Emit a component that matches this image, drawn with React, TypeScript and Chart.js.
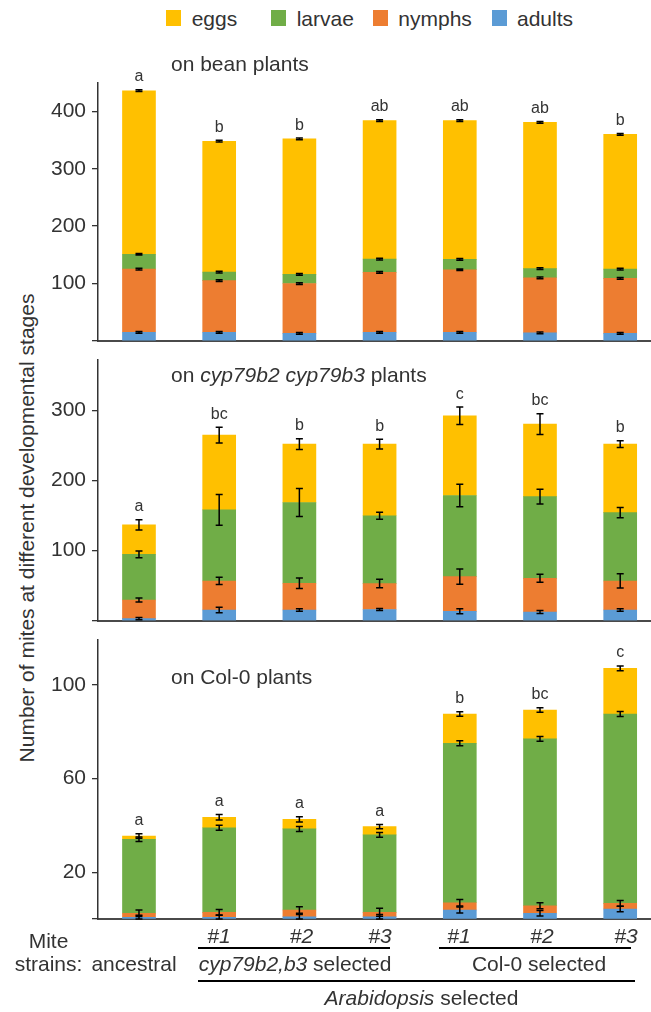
import React, { useEffect, useRef } from 'react';
import { Chart, registerables } from 'chart.js';

Chart.register(...registerables);

// ---------- data ----------
const strains = ['ancestral', 'cyp79b2,b3 #1', 'cyp79b2,b3 #2', 'cyp79b2,b3 #3', 'Col-0 #1', 'Col-0 #2', 'Col-0 #3'];
const stageNames = ['adults', 'nymphs', 'larvae', 'eggs'];
const legendOrder = ['eggs', 'larvae', 'nymphs', 'adults'];

// on bean plants
const beanAdults = [15, 15, 13, 15, 15, 14, 13];
const beanNymphs = [110, 90, 87, 104.5, 109, 96, 96];
const beanLarvae = [26, 15, 16, 23, 18, 16, 16];
const beanEggs = [285, 228, 236, 241.5, 242, 255, 235];
const beanAdultsErr = [1.5, 1.5, 1.5, 1.5, 1.5, 1.5, 1.5];
const beanNymphsErr = [1.5, 1.5, 1.5, 1.5, 1.5, 1.5, 1.5];
const beanLarvaeErr = [1.5, 1.5, 1.5, 1.5, 1.5, 1.5, 1.5];
const beanEggsErr = [1.5, 1.5, 1.5, 1.5, 1.5, 1.5, 1.5];
const beanLetters = ['a', 'b', 'b', 'ab', 'ab', 'ab', 'b'];
const beanTicks = [0, 100, 200, 300, 400];

// on cyp79b2 cyp79b3 plants
const cypAdults = [3, 15.3, 15.3, 16, 13.4, 12.4, 15.3];
const cypNymphs = [26.6, 41.4, 38.1, 37, 49.5, 48.1, 41.4];
const cypLarvae = [65.2, 101.4, 115.2, 96.8, 115.7, 116.5, 97.6];
const cypEggs = [41.9, 106.7, 83.4, 102.2, 113.8, 103.6, 97.7];
const cypAdultsErr = [1.7, 4, 1.9, 1.5, 3.5, 2, 1.7];
const cypNymphsErr = [2.9, 5.2, 7.6, 6, 11, 5.7, 10.2];
const cypLarvaeErr = [4.8, 22, 20, 5, 16, 10.5, 7.4];
const cypEggsErr = [7.4, 11.2, 7.6, 7, 12.4, 14.8, 4.8];
const cypLetters = ['a', 'bc', 'b', 'b', 'c', 'bc', 'b'];
const cypTicks = [0, 100, 200, 300];

// on Col-0 plants
const colAdults = [0.8, 0.8, 1, 1, 3.9, 2.5, 4.3];
const colNymphs = [1.7, 2.1, 2.9, 1.9, 3.1, 3.2, 2.4];
const colLarvae = [31.6, 36.1, 34.6, 33.1, 68.1, 71.3, 80.9];
const colEggs = [1.4, 4.5, 4.1, 3.5, 12.5, 12.3, 19.5];
const colAdultsErr = [0.8, 0.8, 1, 1, 1.3, 1.2, 1.2];
const colNymphsErr = [1.4, 1.2, 1.4, 1.7, 1.4, 1.3, 1.2];
const colLarvaeErr = [1, 1.1, 1.1, 1, 1.1, 1, 1.1];
const colEggsErr = [1, 1.2, 1.1, 0.9, 1, 1, 1];
const colLetters = ['a', 'a', 'a', 'a', 'b', 'bc', 'c'];
const colTicks = [0, 20, 60, 100];

// ---------- styles / layout ----------
const FONT = '"Liberation Sans", Arial, Helvetica, sans-serif';
const TEXT = '#333333';
const COLORS: Record<string, string> = {
  eggs: '#FFC000',
  larvae: '#70AD47',
  nymphs: '#ED7D31',
  adults: '#5B9BD5',
};
const W = 651;
const H = 1012;

type Seg = { text: string; italic?: boolean };
type PanelCfg = {
  values: number[][];
  errors: number[][];
  letters: string[];
  ticks: number[];
  yMax: number;
  top: number;
  bottom: number;
  title: Seg[];
  titleDy: number;
};

const panels: PanelCfg[] = [
  {
    values: [beanAdults, beanNymphs, beanLarvae, beanEggs],
    errors: [beanAdultsErr, beanNymphsErr, beanLarvaeErr, beanEggsErr],
    letters: beanLetters,
    ticks: beanTicks,
    yMax: 450,
    top: 82.7,
    bottom: 340.9,
    title: [{ text: 'on bean plants' }],
    titleDy: -11.7,
  },
  {
    values: [cypAdults, cypNymphs, cypLarvae, cypEggs],
    errors: [cypAdultsErr, cypNymphsErr, cypLarvaeErr, cypEggsErr],
    letters: cypLetters,
    ticks: cypTicks,
    yMax: 372,
    top: 360,
    bottom: 620.7,
    title: [{ text: 'on ' }, { text: 'cyp79b2 cyp79b3', italic: true }, { text: ' plants' }],
    titleDy: 21.7,
  },
  {
    values: [colAdults, colNymphs, colLarvae, colEggs],
    errors: [colAdultsErr, colNymphsErr, colLarvaeErr, colEggsErr],
    letters: colLetters,
    ticks: colTicks,
    yMax: 119.2,
    top: 640,
    bottom: 919.1,
    title: [{ text: 'on Col-0 plants' }],
    titleDy: 44.3,
  },
];

function Panel({ cfg }: { cfg: PanelCfg }) {
  const ref = useRef<HTMLCanvasElement>(null);
  useEffect(() => {
    const canvas = ref.current!;
    const overlay = {
      id: 'overlay',
      afterDatasetsDraw(chart: any) {
        const ctx = chart.ctx;
        const ys = chart.scales.y;
        const n = strains.length;
        const cum = new Array(n).fill(0);
        ctx.save();
        ctx.strokeStyle = '#000';
        ctx.lineWidth = 1.5;
        cfg.values.forEach((vals, d) => {
          const meta = chart.getDatasetMeta(d);
          vals.forEach((v, i) => {
            cum[i] += v;
            const x = meta.data[i].x;
            const e = cfg.errors[d][i];
            const y1 = ys.getPixelForValue(cum[i] + e);
            const y2 = ys.getPixelForValue(Math.max(0, cum[i] - e));
            ctx.beginPath();
            ctx.moveTo(x, y1);
            ctx.lineTo(x, y2);
            ctx.moveTo(x - 3.5, y1);
            ctx.lineTo(x + 3.5, y1);
            ctx.moveTo(x - 3.5, y2);
            ctx.lineTo(x + 3.5, y2);
            ctx.stroke();
          });
        });
        // significance letters
        ctx.fillStyle = TEXT;
        ctx.font = `16px ${FONT}`;
        ctx.textAlign = 'center';
        ctx.textBaseline = 'alphabetic';
        const lastMeta = chart.getDatasetMeta(cfg.values.length - 1);
        const lastErr = cfg.errors[cfg.errors.length - 1];
        cfg.letters.forEach((l, i) => {
          const x = lastMeta.data[i].x;
          const yt = ys.getPixelForValue(cum[i] + lastErr[i]);
          ctx.fillText(l, x, yt - 8.5);
        });
        // panel title
        let tx = 171;
        const ty = chart.chartArea.top + cfg.titleDy;
        ctx.textAlign = 'left';
        cfg.title.forEach((s) => {
          ctx.font = `${s.italic ? 'italic ' : ''}21px ${FONT}`;
          ctx.fillText(s.text, tx, ty);
          tx += ctx.measureText(s.text).width;
        });
        ctx.restore();
      },
    };
    const chart = new Chart(canvas, {
      type: 'bar',
      data: {
        datasets: stageNames.map((name, d) => ({
          label: name,
          data: cfg.values[d].map((v, i) => ({ x: i, y: v })),
          backgroundColor: COLORS[name],
          borderWidth: 0,
          barThickness: 33,
        })),
      },
      options: {
        responsive: false,
        animation: false,
        devicePixelRatio: 1,
        layout: { padding: { top: cfg.top, bottom: H - cfg.bottom, left: 0, right: 0 } },
        plugins: { legend: { display: false }, tooltip: { enabled: false } },
        events: [],
        scales: {
          x: {
            type: 'linear',
            offset: false,
            stacked: true,
            min: -0.511,
            max: 6.384,
            afterBuildTicks: (s: any) => {
              s.ticks = strains.map((_, i) => ({ value: i }));
            },
            afterFit: (s: any) => {
              s.height = 0;
            },
            ticks: { display: false },
            grid: { display: false, drawTicks: false },
            border: { display: true, color: '#4a4a4a', width: 2 },
          },
          y: {
            stacked: true,
            min: 0,
            max: cfg.yMax,
            afterBuildTicks: (s: any) => {
              s.ticks = cfg.ticks.map((v) => ({ value: v }));
            },
            afterFit: (s: any) => {
              s.width = 98;
            },
            ticks: {
              font: { family: FONT, size: 21 },
              color: TEXT,
              padding: 6,
              callback: (v: any) => (v === 0 ? '' : String(v)),
            },
            grid: { drawOnChartArea: false, drawTicks: true, tickLength: 6, color: '#333', lineWidth: 1.3 },
            border: { color: '#333', width: 1.5 },
          },
        },
      },
      plugins: [overlay],
    } as any);
    return () => chart.destroy();
  }, [cfg]);
  return <canvas ref={ref} width={W} height={H} style={{ position: 'absolute', left: 0, top: 0 }} />;
}

const legendPos: Record<string, { box: number; text: number }> = {
  eggs: { box: 166, text: 191.7 },
  larvae: { box: 270.5, text: 296.7 },
  nymphs: { box: 372.6, text: 398.3 },
  adults: { box: 491.7, text: 517 },
};

function Txt({ x, y, align = 'center', children }: { x: number; y: number; align?: string; children: any }) {
  const tx = align === 'center' ? '-50%' : align === 'right' ? '-100%' : '0';
  return (
    <div
      style={{
        position: 'absolute',
        left: x,
        top: y,
        transform: `translate(${tx}, -50%)`,
        whiteSpace: 'nowrap',
        fontSize: 21,
        lineHeight: '21px',
      }}
    >
      {children}
    </div>
  );
}

function Rule({ x1, x2, y }: { x1: number; x2: number; y: number }) {
  return <div style={{ position: 'absolute', left: x1, top: y - 1.2, width: x2 - x1, height: 2.4, background: '#000' }} />;
}

const strainNumX = [219, 301.5, 380, 459, 542, 626];
const strainNums = ['#1', '#2', '#3', '#1', '#2', '#3'];

export default function App() {
  return (
    <div
      style={{
        position: 'absolute',
        left: 0,
        top: 0,
        width: W,
        height: H,
        fontFamily: FONT,
        color: TEXT,
        background: '#fff',
        overflow: 'hidden',
      }}
    >
      {legendOrder.map((name) => (
        <React.Fragment key={name}>
          <div
            style={{
              position: 'absolute',
              left: legendPos[name].box,
              top: 10,
              width: 15,
              height: 16,
              background: COLORS[name],
            }}
          />
          <Txt x={legendPos[name].text} y={17.5} align="left">
            {name}
          </Txt>
        </React.Fragment>
      ))}
      <div
        style={{
          position: 'absolute',
          left: 26,
          top: 527.5,
          transform: 'translate(-50%, -50%) rotate(-90deg)',
          whiteSpace: 'nowrap',
          fontSize: 21,
          lineHeight: '21px',
        }}
      >
        Number of mites at different developmental stages
      </div>
      {panels.map((p, i) => (
        <Panel key={i} cfg={p} />
      ))}
      <Txt x={48.5} y={940}>Mite</Txt>
      <Txt x={48.5} y={963.3}>strains:</Txt>
      <Txt x={134} y={963.3}>{strains[0]}</Txt>
      {strainNums.map((s, i) => (
        <Txt key={i} x={strainNumX[i]} y={935}>
          <i>{s}</i>
        </Txt>
      ))}
      <Rule x1={198.3} x2={390} y={947.7} />
      <Rule x1={439.3} x2={630.7} y={947.7} />
      <Txt x={295} y={963.3}>
        <i>cyp79b2,b3</i> selected
      </Txt>
      <Txt x={539} y={963.3}>Col-0 selected</Txt>
      <Rule x1={198.3} x2={635} y={981.3} />
      <Txt x={421.5} y={996.7}>
        <i>Arabidopsis</i> selected
      </Txt>
    </div>
  );
}
